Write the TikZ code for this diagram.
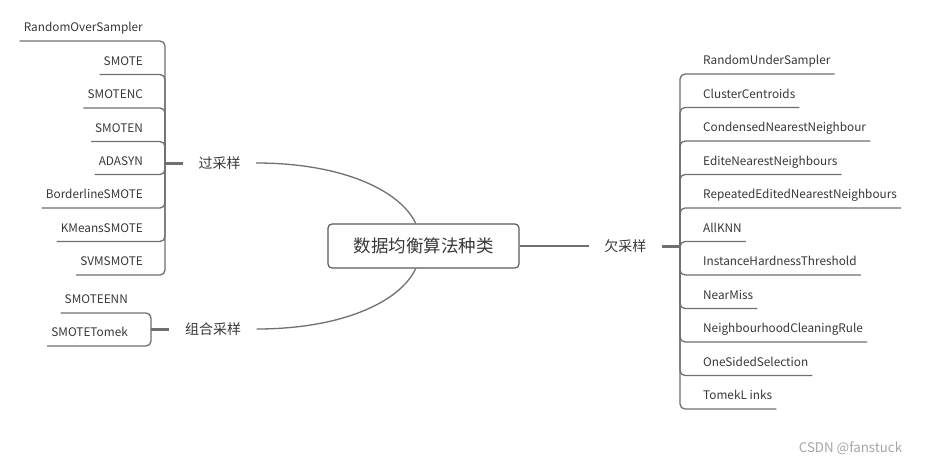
\documentclass[tikz,border=0pt]{standalone}
\usepackage{fontspec}
\setmainfont{Noto Sans CJK SC}
\usetikzlibrary{positioning}
\definecolor{linea}{HTML}{707070}
\definecolor{borde}{HTML}{5A5A5A}
\definecolor{texto}{HTML}{383838}
\definecolor{marca}{HTML}{A6A6A6}

\begin{document}
\begin{tikzpicture}[x=1pt, y=-1pt,
  font=\fontsize{11.8}{14}\selectfont, text=texto,
  hoja/.style={inner xsep=4pt, inner ysep=9.3pt, text height=9pt, text depth=0pt},
  hojai/.style={hoja, anchor=south east},
  hojad/.style={hoja, anchor=south west},
  rama/.style={inner xsep=15.5pt, inner ysep=4pt, font=\fontsize{14}{16}\selectfont},
  raiz/.style={draw=borde, rounded corners=4pt, line width=1.2pt, minimum width=191pt, minimum height=44pt, font=\fontsize{17.5}{20}\selectfont},
  enlace/.style={linea, line width=1.3pt},
  subr/.style={enlace, rounded corners=5pt},
  tope/.style={linea, line width=3pt}]
\useasboundingbox (0,0) rectangle (931,463);
\fill[white] (0,0) rectangle (931,463);
% centro y ramas
\node[raiz] (cn) at (423.5,246) {数据均衡算法种类};
\node[rama] (os) at (219.5,163) {过采样};
\node[rama] (cs) at (213,329) {组合采样};
\node[rama, right=69pt of cn] (us) {欠采样};
\coordinate (jo) at (165,163);
\coordinate (jc) at (151,329);
\coordinate[right=18pt of us] (ju);
\draw[enlace] (os.east) .. controls +(84,0) and +(-16,-34) .. (cn.109);
\draw[enlace] (cs.east) .. controls +(84,0) and +(-16,34) .. (cn.251);
\draw[enlace] (cn.east) -- (us.west);
\draw[tope] (jo) -- (os.west); \draw[tope] (jc) -- (cs.west); \draw[tope] (us.east) -- (ju);
% sobremuestreo
\node[hojai] (o1) at (147,41) {RandomOverSampler};
\node[hojai] (o2) at (147,74.5) {SMOTE};
\node[hojai] (o3) at (147,108) {SMOTENC};
\node[hojai] (o4) at (147,141.5) {SMOTEN};
\node[hojai] (o5) at (147,174.5) {ADASYN};
\node[hojai] (o6) at (147,208) {BorderlineSMOTE};
\node[hojai] (o7) at (147,241.5) {KMeansSMOTE};
\node[hojai] (o8) at (147,275) {SVMSMOTE};
\draw[subr] (jo) |- (o1.south east) -- (o1.south west); \draw[subr] (jo) |- (o2.south east) -- (o2.south west);
\draw[subr] (jo) |- (o3.south east) -- (o3.south west); \draw[subr] (jo) |- (o4.south east) -- (o4.south west);
\draw[subr] (jo) |- (o5.south east) -- (o5.south west); \draw[subr] (jo) |- (o6.south east) -- (o6.south west);
\draw[subr] (jo) |- (o7.south east) -- (o7.south west); \draw[subr] (jo) |- (o8.south east) -- (o8.south west);
% combinado
\node[hojai] (c1) at (132,313) {SMOTEENN};
\node[hojai] (c2) at (132,346) {SMOTETomek};
\draw[subr] (jc) |- (c1.south east) -- (c1.south west); \draw[subr] (jc) |- (c2.south east) -- (c2.south west);
% submuestreo
\node[hojad] (u1) at (699,74) {RandomUnderSampler};
\node[hojad] (u2) at (699,107.5) {ClusterCentroids};
\node[hojad] (u3) at (699,141) {CondensedNearestNeighbour};
\node[hojad] (u4) at (699,174.5) {EditeNearestNeighbours};
\node[hojad] (u5) at (699,208) {RepeatedEditedNearestNeighbours};
\node[hojad] (u6) at (699,241.5) {AllKNN};
\node[hojad] (u7) at (699,275) {InstanceHardnessThreshold};
\node[hojad] (u8) at (699,308.5) {NearMiss};
\node[hojad] (u9) at (699,342) {NeighbourhoodCleaningRule};
\node[hojad] (u10) at (699,375.5) {OneSidedSelection};
\node[hojad] (u11) at (699,409) {TomekL inks};
\draw[subr] (ju) |- (u1.south west) -- (u1.south east); \draw[subr] (ju) |- (u2.south west) -- (u2.south east);
\draw[subr] (ju) |- (u3.south west) -- (u3.south east); \draw[subr] (ju) |- (u4.south west) -- (u4.south east);
\draw[subr] (ju) |- (u5.south west) -- (u5.south east); \draw[subr] (ju) |- (u6.south west) -- (u6.south east);
\draw[subr] (ju) |- (u7.south west) -- (u7.south east); \draw[subr] (ju) |- (u8.south west) -- (u8.south east);
\draw[subr] (ju) |- (u9.south west) -- (u9.south east); \draw[subr] (ju) |- (u10.south west) -- (u10.south east);
\draw[subr] (ju) |- (u11.south west) -- (u11.south east);
\node[font=\fontsize{13.3}{15}\selectfont, text=marca] (wm) at (850.5,448) {CSDN @fanstuck};
\end{tikzpicture}
\end{document}
